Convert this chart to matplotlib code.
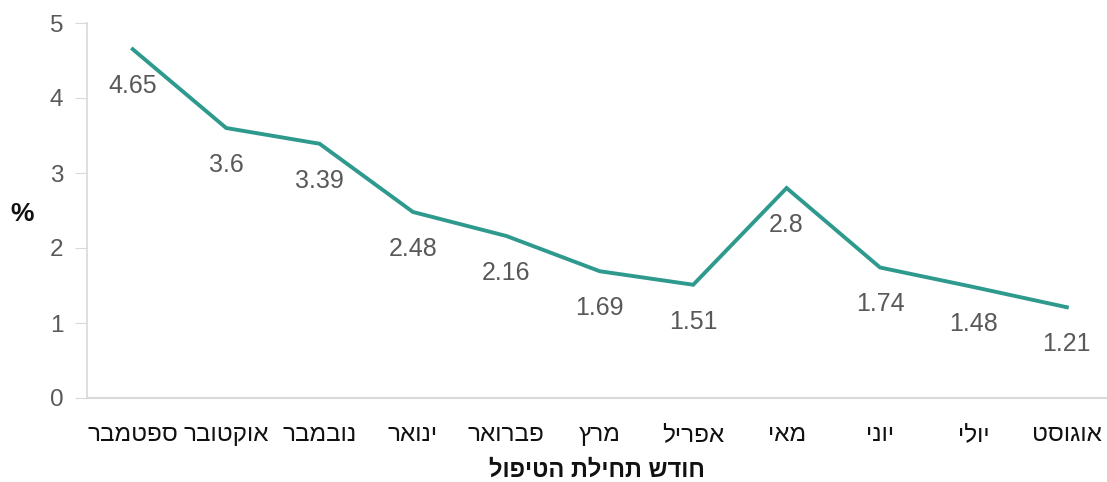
import matplotlib
matplotlib.use("Agg")
import matplotlib.pyplot as plt

months = ["ספטמבר", "אוקטובר", "נובמבר", "ינואר", "פברואר", "מרץ",
          "אפריל", "מאי", "יוני", "יולי", "אוגוסט"]
values = [4.65, 3.6, 3.39, 2.48, 2.16, 1.69, 1.51, 2.8, 1.74, 1.48, 1.21]
yticks = [0, 1, 2, 3, 4, 5]
xlabel = "חודש תחילת הטיפול"
ylabel = "%"


def rtl(s):
    # matplotlib has no bidi support: reverse for visual order
    return s[::-1]


plt.rcParams['font.family'] = ['Liberation Sans', 'DejaVu Sans']

fig = plt.figure(figsize=(11.07, 4.82), dpi=100)
ax = fig.add_axes([87 / 1107, 1 - 398 / 482, 1 - 87 / 1107, (398 - 23) / 482])

x = list(range(len(values)))
ax.plot(x, values, color="#2E9A8E", lw=2.8, solid_joinstyle="miter")
for xi, v in zip(x, values):
    ax.annotate(f"{v:g}", (xi, v), xytext=(0, -26.5), textcoords="offset points",
                ha="center", va="center", fontsize=18, color="#595959")

ax.set_xlim(-0.49, 10.43)
ax.set_ylim(0, 5)
ax.set_yticks(yticks)
ax.set_yticklabels([str(t) for t in yticks])
ax.set_xticks(x)
ax.set_xticklabels([rtl(m) for m in months])

for s in ["top", "right"]:
    ax.spines[s].set_visible(False)
ax.spines["left"].set_color("#D9D9D9")
ax.spines["bottom"].set_color("#D9D9D9")
ax.spines["left"].set_linewidth(1.2)
ax.spines["bottom"].set_linewidth(1.5)

ax.tick_params(axis="y", length=9, color="#D9D9D9", labelsize=17.5, labelcolor="#595959", pad=8)
ax.tick_params(axis="x", length=0, labelsize=17.5, labelcolor="#111111", pad=19)

ax.set_xlabel(rtl(xlabel), fontsize=17, fontweight="bold", color="#111111", labelpad=9)
fig.text(22 / 1107, 1 - 214 / 482, ylabel, fontsize=19, fontweight="bold",
         ha="center", va="center", color="#111111")

fig.savefig("out.png", dpi=100)
